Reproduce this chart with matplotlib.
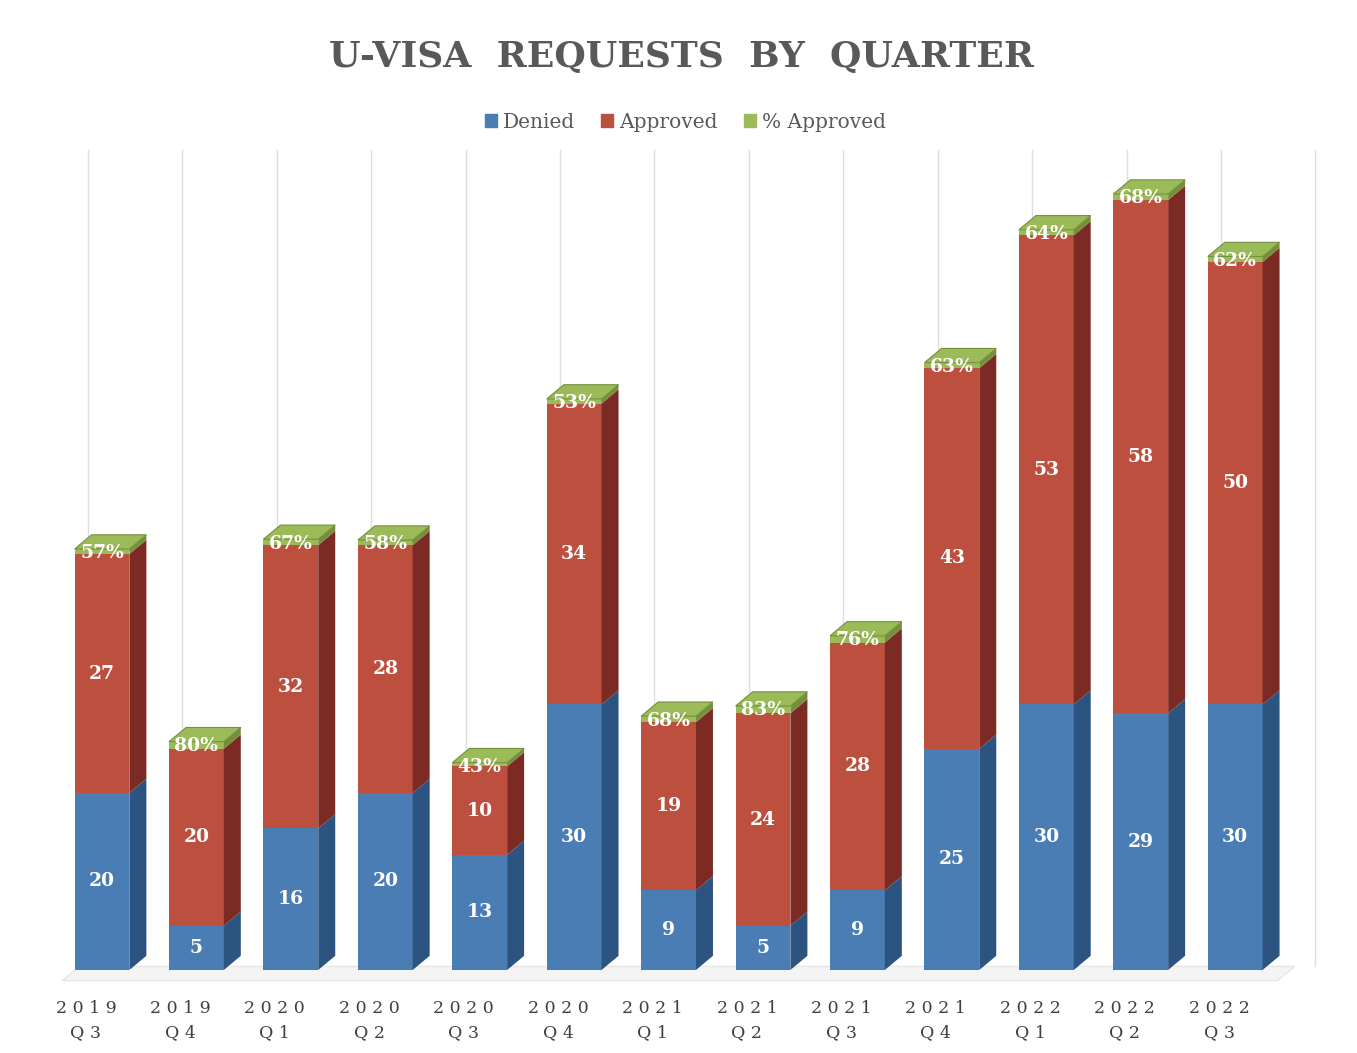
import matplotlib
matplotlib.use("Agg")
import matplotlib.pyplot as plt
from matplotlib.patches import Polygon, Patch

quarters = ["2019\nQ3", "2019\nQ4", "2020\nQ1", "2020\nQ2", "2020\nQ3", "2020\nQ4", "2021\nQ1",
            "2021\nQ2", "2021\nQ3", "2021\nQ4", "2022\nQ1", "2022\nQ2", "2022\nQ3"]
denied = [20, 5, 16, 20, 13, 30, 9, 5, 9, 25, 30, 29, 30]
approved = [27, 20, 32, 28, 10, 34, 19, 24, 28, 43, 53, 58, 50]
pct_approved = [57, 80, 67, 58, 43, 53, 68, 83, 76, 63, 64, 68, 62]

# colours: front face, side face
blue = ("#4a7db3", "#2c5480")
red = ("#bd4f3f", "#7c2b24")
green = ("#9bbb59", "#758f3c")

W = 0.58   # bar width
DX = 0.18  # depth offset x
DY = 1.6   # depth offset y
FONT = "DejaVu Serif"

fig = plt.figure(figsize=(13.57, 10.53), dpi=100)
ax = fig.add_axes([0, 0, 1, 1])
ax.set_xlim(-1.08, 13.29)
ax.set_ylim(-9.38, 109.6)
ax.axis("off")

n = len(quarters)
xs = list(range(n))

# back wall grid lines
for k in range(n + 1):
    ax.plot([k - 0.15, k - 0.15], [0.5, 92.7], color="#dedede", lw=1, zorder=0)
# floor
floor = Polygon([(-0.42, -1.2), (12.45, -1.2), (12.63, 0.4), (-0.24, 0.4)], closed=True,
                facecolor="#f4f4f4", edgecolor="#e6e6e6", lw=1, zorder=1)
ax.add_patch(floor)


def box(x, y0, h, col, top=False):
    ax.bar(x, h, bottom=y0, width=W, color=col[0], edgecolor="none", zorder=2)
    r = x + W / 2
    side = Polygon([(r, y0), (r + DX, y0 + DY), (r + DX, y0 + h + DY), (r, y0 + h)],
                   closed=True, facecolor=col[1], edgecolor="none", zorder=2)
    ax.add_patch(side)
    if top:
        l = x - W / 2
        y1 = y0 + h
        tp = Polygon([(l, y1), (r, y1), (r + DX, y1 + DY), (l + DX, y1 + DY)],
                     closed=True, facecolor=col[0], edgecolor=col[1], lw=0.8, zorder=2)
        ax.add_patch(tp)


for i in xs:
    d = denied[i]
    a = approved[i]
    p = pct_approved[i] / 100
    box(i, 0, d, blue)
    box(i, d, a, red)
    box(i, d + a, p, green, top=True)
    ax.text(i, d / 2, str(d), color="white", fontsize=13.5, fontweight="bold",
            family=FONT, ha="center", va="center", zorder=3)
    ax.text(i, d + a / 2, str(a), color="white", fontsize=13.5, fontweight="bold",
            family=FONT, ha="center", va="center", zorder=3)
    ax.text(i, d + a + p - 0.5, str(pct_approved[i]) + "%", color="white", fontsize=13.5,
            fontweight="bold", family=FONT, ha="center", va="center", zorder=3)
    yr, q = quarters[i].split("\n")
    ax.text(i - 0.17, -4.4, " ".join(yr), color="#404040", fontsize=12.5, family=FONT,
            ha="center", va="center")
    ax.text(i - 0.17, -7.1, " ".join(q), color="#404040", fontsize=12.5, family=FONT,
            ha="center", va="center")

fig.text(0.502, 1 - 57 / 1053, "U-VISA  REQUESTS  BY  QUARTER", color="#595959",
         fontsize=26, fontweight="bold", family=FONT, ha="center", va="center")

handles = [Patch(color=blue[0], label="Denied"),
           Patch(color=red[0], label="Approved"),
           Patch(color=green[0], label="% Approved")]
leg = fig.legend(handles=handles, loc="center", bbox_to_anchor=(0.505, 1 - 122 / 1053),
                 ncol=3, frameon=False, handlelength=0.6, handleheight=0.6,
                 handletextpad=0.3, columnspacing=1.3,
                 prop={"family": FONT, "size": 14.5})
for t in leg.get_texts():
    t.set_color("#595959")

fig.savefig("out.png", dpi=100)
